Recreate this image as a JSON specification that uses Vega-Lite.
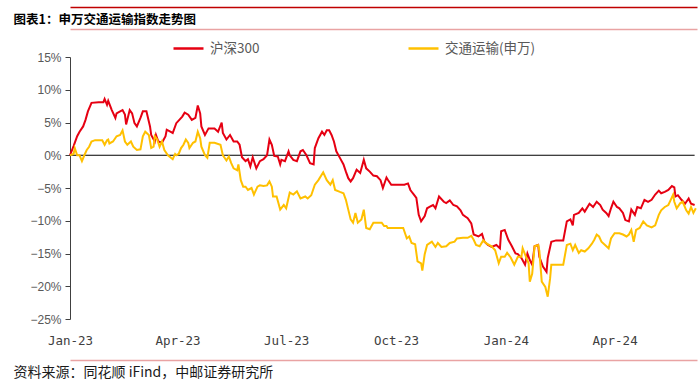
{
  "$schema": "https://vega.github.io/schema/vega-lite/v6.json",
  "width": 627,
  "height": 262,
  "autosize": "none",
  "padding": {"left": 70, "top": 57, "right": 3, "bottom": 62},
  "background": "white",
  "config": {
    "view": {"stroke": null},
    "font": "Noto Sans CJK SC",
    "axisY": {
      "values": [-25, -20, -15, -10, -5, 0, 5, 10, 15],
      "labelExpr": "format(datum.value, 'd') + '%'",
      "domainColor": "#404040",
      "domainWidth": 1,
      "tickColor": "#404040",
      "tickSize": 5,
      "labelFont": "Liberation Sans",
      "labelFontSize": 12,
      "labelColor": "#595959",
      "labelPadding": 4,
      "grid": false,
      "title": null
    }
  },
  "datasets": {
    "hs": [
      {"d": "2023-01-03", "v": 0}, {"d": "2023-01-06", "v": 1.4}, {"d": "2023-01-09", "v": 2.9}, {"d": "2023-01-11", "v": 3.6},
      {"d": "2023-01-14", "v": 4.4}, {"d": "2023-01-16", "v": 5.4}, {"d": "2023-01-18", "v": 6.7}, {"d": "2023-01-21", "v": 8.0},
      {"d": "2023-01-27", "v": 8.1}, {"d": "2023-01-31", "v": 8.1}, {"d": "2023-02-01", "v": 8.6}, {"d": "2023-02-03", "v": 7.7},
      {"d": "2023-02-04", "v": 8.3}, {"d": "2023-02-07", "v": 6.9}, {"d": "2023-02-10", "v": 5.7}, {"d": "2023-02-11", "v": 6.4},
      {"d": "2023-02-14", "v": 6.7}, {"d": "2023-02-16", "v": 6.9}, {"d": "2023-02-18", "v": 6.2}, {"d": "2023-02-19", "v": 4.7},
      {"d": "2023-02-22", "v": 6.9}, {"d": "2023-02-24", "v": 6.4}, {"d": "2023-02-26", "v": 4.9}, {"d": "2023-02-28", "v": 4.4},
      {"d": "2023-03-03", "v": 5.7}, {"d": "2023-03-05", "v": 6.7}, {"d": "2023-03-08", "v": 6.7}, {"d": "2023-03-11", "v": 4.4},
      {"d": "2023-03-12", "v": 3.1}, {"d": "2023-03-15", "v": 2.1}, {"d": "2023-03-16", "v": 3.1}, {"d": "2023-03-18", "v": 2.1},
      {"d": "2023-03-21", "v": 1.9}, {"d": "2023-03-24", "v": 2.9}, {"d": "2023-03-25", "v": 3.9}, {"d": "2023-03-28", "v": 3.6},
      {"d": "2023-03-30", "v": 3.4}, {"d": "2023-04-02", "v": 4.9}, {"d": "2023-04-07", "v": 5.9}, {"d": "2023-04-09", "v": 6.5},
      {"d": "2023-04-12", "v": 6.2}, {"d": "2023-04-15", "v": 5.4}, {"d": "2023-04-18", "v": 5.7}, {"d": "2023-04-20", "v": 7.6},
      {"d": "2023-04-22", "v": 6.4}, {"d": "2023-04-23", "v": 4.4}, {"d": "2023-04-26", "v": 3.1}, {"d": "2023-04-29", "v": 4.1},
      {"d": "2023-05-04", "v": 4.1}, {"d": "2023-05-07", "v": 3.6}, {"d": "2023-05-10", "v": 5.0}, {"d": "2023-05-11", "v": 3.4},
      {"d": "2023-05-14", "v": 2.4}, {"d": "2023-05-17", "v": 3.1}, {"d": "2023-05-20", "v": 2.1}, {"d": "2023-05-23", "v": 2.1},
      {"d": "2023-05-25", "v": 1.6}, {"d": "2023-05-27", "v": -0.3}, {"d": "2023-05-30", "v": -0.9}, {"d": "2023-06-01", "v": -0.6},
      {"d": "2023-06-03", "v": -1.7}, {"d": "2023-06-05", "v": -0.3}, {"d": "2023-06-08", "v": -2.0}, {"d": "2023-06-11", "v": -0.9},
      {"d": "2023-06-14", "v": -0.6}, {"d": "2023-06-17", "v": 0}, {"d": "2023-06-19", "v": 2.4}, {"d": "2023-06-21", "v": 1.6},
      {"d": "2023-06-23", "v": -0.1}, {"d": "2023-06-26", "v": -0.2}, {"d": "2023-06-28", "v": -1.4}, {"d": "2023-06-29", "v": -0.7},
      {"d": "2023-07-02", "v": -0.9}, {"d": "2023-07-05", "v": 0.6}, {"d": "2023-07-06", "v": 0}, {"d": "2023-07-09", "v": -0.7},
      {"d": "2023-07-12", "v": -0.9}, {"d": "2023-07-15", "v": 0.6}, {"d": "2023-07-17", "v": 0.8}, {"d": "2023-07-20", "v": 0},
      {"d": "2023-07-23", "v": -1.2}, {"d": "2023-07-26", "v": -1.4}, {"d": "2023-07-27", "v": 1.1}, {"d": "2023-07-30", "v": 2.6},
      {"d": "2023-08-02", "v": 3.6}, {"d": "2023-08-04", "v": 3.1}, {"d": "2023-08-06", "v": 3.8}, {"d": "2023-08-08", "v": 3.8},
      {"d": "2023-08-10", "v": 3.1}, {"d": "2023-08-12", "v": 2.1}, {"d": "2023-08-14", "v": 0.6}, {"d": "2023-08-17", "v": -0.4},
      {"d": "2023-08-20", "v": -1.4}, {"d": "2023-08-22", "v": -2.5}, {"d": "2023-08-24", "v": -3.5}, {"d": "2023-08-26", "v": -4.0},
      {"d": "2023-08-28", "v": -3.5}, {"d": "2023-08-31", "v": -2.2}, {"d": "2023-09-03", "v": -2.7}, {"d": "2023-09-06", "v": -0.7},
      {"d": "2023-09-08", "v": -2.0}, {"d": "2023-09-11", "v": -2.5}, {"d": "2023-09-14", "v": -3.1}, {"d": "2023-09-17", "v": -3.2},
      {"d": "2023-09-20", "v": -3.8}, {"d": "2023-09-22", "v": -5.0}, {"d": "2023-09-25", "v": -3.4}, {"d": "2023-09-26", "v": -3.7},
      {"d": "2023-09-29", "v": -4.5}, {"d": "2023-10-10", "v": -4.5}, {"d": "2023-10-13", "v": -4.3}, {"d": "2023-10-15", "v": -5.3},
      {"d": "2023-10-17", "v": -5.8}, {"d": "2023-10-20", "v": -6.5}, {"d": "2023-10-22", "v": -9.1}, {"d": "2023-10-24", "v": -10.1},
      {"d": "2023-10-27", "v": -9.3}, {"d": "2023-10-29", "v": -8.1}, {"d": "2023-10-31", "v": -7.9}, {"d": "2023-11-03", "v": -7.6},
      {"d": "2023-11-05", "v": -8.1}, {"d": "2023-11-08", "v": -6.3}, {"d": "2023-11-12", "v": -7.1}, {"d": "2023-11-14", "v": -7.3},
      {"d": "2023-11-17", "v": -6.9}, {"d": "2023-11-20", "v": -7.6}, {"d": "2023-11-23", "v": -7.8}, {"d": "2023-11-26", "v": -8.4},
      {"d": "2023-11-28", "v": -9.1}, {"d": "2023-12-02", "v": -9.6}, {"d": "2023-12-05", "v": -10.4}, {"d": "2023-12-07", "v": -12.1},
      {"d": "2023-12-11", "v": -12.4}, {"d": "2023-12-14", "v": -12.0}, {"d": "2023-12-16", "v": -13.2}, {"d": "2023-12-19", "v": -13.7},
      {"d": "2023-12-22", "v": -14.0}, {"d": "2023-12-26", "v": -13.7}, {"d": "2023-12-29", "v": -14.2}, {"d": "2023-12-30", "v": -11.6},
      {"d": "2024-01-02", "v": -11.4}, {"d": "2024-01-05", "v": -12.9}, {"d": "2024-01-08", "v": -13.9}, {"d": "2024-01-11", "v": -15.0},
      {"d": "2024-01-13", "v": -15.1}, {"d": "2024-01-16", "v": -15.7}, {"d": "2024-01-19", "v": -16.7}, {"d": "2024-01-21", "v": -15.0},
      {"d": "2024-01-23", "v": -16.0}, {"d": "2024-01-25", "v": -16.7}, {"d": "2024-01-27", "v": -13.9}, {"d": "2024-01-30", "v": -13.7},
      {"d": "2024-01-31", "v": -15.5}, {"d": "2024-02-03", "v": -17.0}, {"d": "2024-02-06", "v": -17.8}, {"d": "2024-02-07", "v": -15.7},
      {"d": "2024-02-10", "v": -13.2}, {"d": "2024-02-14", "v": -13.0}, {"d": "2024-02-20", "v": -13.0}, {"d": "2024-02-23", "v": -10.1},
      {"d": "2024-02-26", "v": -9.8}, {"d": "2024-02-28", "v": -10.7}, {"d": "2024-02-29", "v": -9.1}, {"d": "2024-03-04", "v": -8.8},
      {"d": "2024-03-07", "v": -8.1}, {"d": "2024-03-09", "v": -8.6}, {"d": "2024-03-13", "v": -7.4}, {"d": "2024-03-16", "v": -7.9},
      {"d": "2024-03-19", "v": -7.1}, {"d": "2024-03-22", "v": -7.6}, {"d": "2024-03-24", "v": -8.3}, {"d": "2024-03-27", "v": -8.8},
      {"d": "2024-03-29", "v": -9.3}, {"d": "2024-03-31", "v": -8.1}, {"d": "2024-04-02", "v": -7.1}, {"d": "2024-04-05", "v": -7.9},
      {"d": "2024-04-07", "v": -8.1}, {"d": "2024-04-10", "v": -8.8}, {"d": "2024-04-12", "v": -9.9}, {"d": "2024-04-15", "v": -10.1},
      {"d": "2024-04-17", "v": -8.3}, {"d": "2024-04-20", "v": -9.1}, {"d": "2024-04-22", "v": -7.9}, {"d": "2024-04-25", "v": -8.1},
      {"d": "2024-04-28", "v": -6.8}, {"d": "2024-05-01", "v": -7.1}, {"d": "2024-05-04", "v": -6.8}, {"d": "2024-05-07", "v": -6.0},
      {"d": "2024-05-10", "v": -5.4}, {"d": "2024-05-12", "v": -5.8}, {"d": "2024-05-15", "v": -5.6}, {"d": "2024-05-18", "v": -5.3},
      {"d": "2024-05-21", "v": -4.7}, {"d": "2024-05-23", "v": -4.9}, {"d": "2024-05-24", "v": -6.3}, {"d": "2024-05-26", "v": -6.1},
      {"d": "2024-05-29", "v": -6.8}, {"d": "2024-06-01", "v": -7.4}, {"d": "2024-06-04", "v": -6.6}, {"d": "2024-06-06", "v": -7.4},
      {"d": "2024-06-09", "v": -7.6}
    ],
    "jt": [
      {"d": "2023-01-03", "v": 0}, {"d": "2023-01-06", "v": 0.2}, {"d": "2023-01-07", "v": 1.1}, {"d": "2023-01-09", "v": 0},
      {"d": "2023-01-11", "v": 0}, {"d": "2023-01-13", "v": -0.9}, {"d": "2023-01-15", "v": 0}, {"d": "2023-01-17", "v": 0.8},
      {"d": "2023-01-19", "v": 1.3}, {"d": "2023-01-21", "v": 2.1}, {"d": "2023-01-24", "v": 2.3}, {"d": "2023-01-30", "v": 2.3},
      {"d": "2023-02-01", "v": 1.6}, {"d": "2023-02-03", "v": 2.3}, {"d": "2023-02-04", "v": 2.4}, {"d": "2023-02-05", "v": 1.8},
      {"d": "2023-02-08", "v": 2.1}, {"d": "2023-02-11", "v": 2.9}, {"d": "2023-02-14", "v": 3.1}, {"d": "2023-02-16", "v": 3.8},
      {"d": "2023-02-18", "v": 2.1}, {"d": "2023-02-20", "v": 1.6}, {"d": "2023-02-23", "v": 2.1}, {"d": "2023-02-25", "v": 1.3},
      {"d": "2023-02-28", "v": 0.8}, {"d": "2023-03-03", "v": 0.9}, {"d": "2023-03-05", "v": 2.9}, {"d": "2023-03-07", "v": 3.6},
      {"d": "2023-03-10", "v": 3.1}, {"d": "2023-03-12", "v": 1.1}, {"d": "2023-03-14", "v": 1.3}, {"d": "2023-03-15", "v": 2.9},
      {"d": "2023-03-17", "v": 2.4}, {"d": "2023-03-19", "v": 1.3}, {"d": "2023-03-21", "v": 2.1}, {"d": "2023-03-23", "v": 0.8},
      {"d": "2023-03-26", "v": 0}, {"d": "2023-03-30", "v": -0.6}, {"d": "2023-04-01", "v": 0.2}, {"d": "2023-04-02", "v": 0},
      {"d": "2023-04-04", "v": 0.2}, {"d": "2023-04-06", "v": 1.1}, {"d": "2023-04-08", "v": 1.6}, {"d": "2023-04-10", "v": 2.4},
      {"d": "2023-04-12", "v": 1.9}, {"d": "2023-04-13", "v": 1.1}, {"d": "2023-04-16", "v": 1.9}, {"d": "2023-04-18", "v": 2.1},
      {"d": "2023-04-20", "v": 3.6}, {"d": "2023-04-22", "v": 2.6}, {"d": "2023-04-23", "v": 1.3}, {"d": "2023-04-26", "v": 0},
      {"d": "2023-04-28", "v": -0.4}, {"d": "2023-04-30", "v": 1.9}, {"d": "2023-05-04", "v": 1.9}, {"d": "2023-05-09", "v": 1.6},
      {"d": "2023-05-11", "v": 0}, {"d": "2023-05-14", "v": -0.8}, {"d": "2023-05-16", "v": -0.2}, {"d": "2023-05-18", "v": -1.2},
      {"d": "2023-05-20", "v": -2.0}, {"d": "2023-05-23", "v": -2.3}, {"d": "2023-05-24", "v": -1.4}, {"d": "2023-05-26", "v": -3.8},
      {"d": "2023-05-28", "v": -4.8}, {"d": "2023-05-30", "v": -4.8}, {"d": "2023-06-01", "v": -5.3}, {"d": "2023-06-04", "v": -5.0},
      {"d": "2023-06-06", "v": -6.0}, {"d": "2023-06-09", "v": -4.8}, {"d": "2023-06-11", "v": -4.6}, {"d": "2023-06-14", "v": -4.7},
      {"d": "2023-06-17", "v": -4.6}, {"d": "2023-06-19", "v": -4.0}, {"d": "2023-06-21", "v": -4.8}, {"d": "2023-06-22", "v": -6.3},
      {"d": "2023-06-25", "v": -6.3}, {"d": "2023-06-28", "v": -8.3}, {"d": "2023-07-01", "v": -7.6}, {"d": "2023-07-03", "v": -8.1},
      {"d": "2023-07-06", "v": -5.7}, {"d": "2023-07-09", "v": -6.0}, {"d": "2023-07-12", "v": -5.5}, {"d": "2023-07-15", "v": -6.6},
      {"d": "2023-07-19", "v": -6.3}, {"d": "2023-07-21", "v": -6.6}, {"d": "2023-07-24", "v": -6.1}, {"d": "2023-07-27", "v": -4.5},
      {"d": "2023-07-30", "v": -3.8}, {"d": "2023-08-03", "v": -2.6}, {"d": "2023-08-06", "v": -3.8}, {"d": "2023-08-09", "v": -4.5},
      {"d": "2023-08-11", "v": -3.8}, {"d": "2023-08-13", "v": -5.3}, {"d": "2023-08-17", "v": -5.6}, {"d": "2023-08-20", "v": -5.8},
      {"d": "2023-08-22", "v": -6.8}, {"d": "2023-08-24", "v": -8.3}, {"d": "2023-08-26", "v": -9.8}, {"d": "2023-08-28", "v": -10.3},
      {"d": "2023-08-30", "v": -8.8}, {"d": "2023-09-01", "v": -10.3}, {"d": "2023-09-04", "v": -9.8}, {"d": "2023-09-06", "v": -8.3},
      {"d": "2023-09-08", "v": -11.1}, {"d": "2023-09-11", "v": -11.3}, {"d": "2023-09-14", "v": -10.3}, {"d": "2023-09-21", "v": -10.3},
      {"d": "2023-09-23", "v": -10.8}, {"d": "2023-09-25", "v": -10.8}, {"d": "2023-09-26", "v": -11.1}, {"d": "2023-10-09", "v": -11.1},
      {"d": "2023-10-12", "v": -12.7}, {"d": "2023-10-14", "v": -12.4}, {"d": "2023-10-16", "v": -13.4}, {"d": "2023-10-19", "v": -13.6},
      {"d": "2023-10-21", "v": -16.2}, {"d": "2023-10-24", "v": -16.5}, {"d": "2023-10-25", "v": -17.6}, {"d": "2023-10-27", "v": -15.1},
      {"d": "2023-10-29", "v": -13.7}, {"d": "2023-11-02", "v": -13.2}, {"d": "2023-11-05", "v": -14.0}, {"d": "2023-11-07", "v": -13.4},
      {"d": "2023-11-10", "v": -14.0}, {"d": "2023-11-14", "v": -13.9}, {"d": "2023-11-17", "v": -13.4}, {"d": "2023-11-21", "v": -13.2},
      {"d": "2023-11-23", "v": -12.7}, {"d": "2023-11-28", "v": -12.6}, {"d": "2023-12-02", "v": -12.6}, {"d": "2023-12-05", "v": -12.3},
      {"d": "2023-12-07", "v": -12.9}, {"d": "2023-12-09", "v": -13.7}, {"d": "2023-12-12", "v": -13.9}, {"d": "2023-12-15", "v": -13.0},
      {"d": "2023-12-18", "v": -13.5}, {"d": "2023-12-22", "v": -13.9}, {"d": "2023-12-25", "v": -14.5}, {"d": "2023-12-28", "v": -16.5},
      {"d": "2023-12-30", "v": -15.5}, {"d": "2024-01-02", "v": -15.5}, {"d": "2024-01-04", "v": -14.9}, {"d": "2024-01-07", "v": -15.6},
      {"d": "2024-01-10", "v": -16.7}, {"d": "2024-01-13", "v": -15.5}, {"d": "2024-01-16", "v": -15.5}, {"d": "2024-01-17", "v": -14.2},
      {"d": "2024-01-20", "v": -15.6}, {"d": "2024-01-22", "v": -16.5}, {"d": "2024-01-23", "v": -19.3}, {"d": "2024-01-25", "v": -18.1},
      {"d": "2024-01-27", "v": -13.9}, {"d": "2024-01-30", "v": -13.7}, {"d": "2024-01-31", "v": -14.6}, {"d": "2024-02-02", "v": -19.3},
      {"d": "2024-02-05", "v": -20.1}, {"d": "2024-02-07", "v": -21.6}, {"d": "2024-02-09", "v": -18.8}, {"d": "2024-02-10", "v": -16.7},
      {"d": "2024-02-20", "v": -16.7}, {"d": "2024-02-23", "v": -13.7}, {"d": "2024-02-26", "v": -13.5}, {"d": "2024-02-28", "v": -14.5},
      {"d": "2024-03-01", "v": -13.7}, {"d": "2024-03-04", "v": -14.9}, {"d": "2024-03-06", "v": -14.5}, {"d": "2024-03-09", "v": -14.7},
      {"d": "2024-03-12", "v": -14.2}, {"d": "2024-03-15", "v": -13.5}, {"d": "2024-03-17", "v": -12.9}, {"d": "2024-03-19", "v": -12.1},
      {"d": "2024-03-21", "v": -12.4}, {"d": "2024-03-23", "v": -13.2}, {"d": "2024-03-26", "v": -13.7}, {"d": "2024-03-29", "v": -14.2},
      {"d": "2024-03-31", "v": -12.7}, {"d": "2024-04-03", "v": -11.9}, {"d": "2024-04-07", "v": -11.9}, {"d": "2024-04-10", "v": -12.1},
      {"d": "2024-04-13", "v": -12.4}, {"d": "2024-04-15", "v": -12.1}, {"d": "2024-04-17", "v": -11.4}, {"d": "2024-04-19", "v": -13.2},
      {"d": "2024-04-21", "v": -11.4}, {"d": "2024-04-24", "v": -11.1}, {"d": "2024-04-27", "v": -10.1}, {"d": "2024-04-30", "v": -10.7},
      {"d": "2024-05-04", "v": -11.0}, {"d": "2024-05-07", "v": -10.7}, {"d": "2024-05-10", "v": -9.1}, {"d": "2024-05-12", "v": -8.4},
      {"d": "2024-05-15", "v": -7.9}, {"d": "2024-05-18", "v": -7.6}, {"d": "2024-05-20", "v": -6.8}, {"d": "2024-05-22", "v": -6.0},
      {"d": "2024-05-23", "v": -7.1}, {"d": "2024-05-25", "v": -8.1}, {"d": "2024-05-28", "v": -7.3}, {"d": "2024-05-30", "v": -7.1},
      {"d": "2024-06-02", "v": -8.4}, {"d": "2024-06-04", "v": -8.9}, {"d": "2024-06-06", "v": -7.9}, {"d": "2024-06-08", "v": -8.8},
      {"d": "2024-06-10", "v": -8.1}
    ]
  },
  "layer": [
    {
      "data": {"name": "hs"},
      "mark": {"type": "rule", "color": "#000000", "strokeWidth": 1.2},
      "encoding": {
        "x": {
          "aggregate": "min", "field": "d", "type": "temporal",
          "scale": {"type": "utc", "domain": [{"year": 2023, "month": 1, "date": 3, "utc": true}, {"year": 2024, "month": 6, "date": 11, "utc": true}]},
          "axis": {"orient": "top", "offset": 50, "domain": true, "domainColor": "#C00000", "domainWidth": 1.5, "ticks": false, "labels": false, "grid": false, "title": null}
        },
        "x2": {"aggregate": "max", "field": "d"},
        "y": {"datum": 0, "type": "quantitative", "scale": {"domain": [-25, 15], "nice": false, "zero": false}}
      }
    },
    {
      "data": {"name": "hs"},
      "mark": {"type": "line", "strokeWidth": 2},
      "encoding": {
        "x": {
          "field": "d", "type": "temporal",
          "scale": {"type": "utc", "domain": [{"year": 2023, "month": 1, "date": 3, "utc": true}, {"year": 2024, "month": 6, "date": 11, "utc": true}]},
          "axis": {
            "orient": "bottom", "offset": 41, "domain": true, "domainColor": "#E9A3A3", "domainWidth": 1.5,
            "ticks": false, "tickSize": 0, "grid": false,
            "values": [
              {"year": 2023, "month": 1, "date": 3, "utc": true}, {"year": 2023, "month": 4, "date": 3, "utc": true},
              {"year": 2023, "month": 7, "date": 3, "utc": true}, {"year": 2023, "month": 10, "date": 3, "utc": true},
              {"year": 2024, "month": 1, "date": 3, "utc": true}, {"year": 2024, "month": 4, "date": 3, "utc": true}
            ],
            "labelExpr": "utcFormat(datum.value, '%b-%y')",
            "labelFont": "DejaVu Sans Mono", "labelFontSize": 12.5, "labelColor": "#404040",
            "labelPadding": -26, "labelBaseline": "top", "labelFlush": false, "labelOverlap": false,
            "title": "资料来源：同花顺 iFind，中邮证券研究所",
            "titleX": -57, "titleY": 12, "titleAnchor": "start", "titleAlign": "left", "titleBaseline": "middle", "titleAngle": 0,
            "titleFont": "Noto Sans CJK SC", "titleFontSize": 14, "titleFontWeight": "normal", "titleColor": "#1a1a1a"
          }
        },
        "y": {"field": "v", "type": "quantitative", "scale": {"domain": [-25, 15], "nice": false, "zero": false}, "axis": {"title": null}},
        "color": {
          "datum": "沪深300",
          "scale": {"domain": ["沪深300", "交通运输(申万)"], "range": ["#E60012", "#FFC000"]},
          "legend": {
            "orient": "none", "legendX": 102, "legendY": -25, "direction": "horizontal", "title": null,
            "symbolType": "stroke", "symbolSize": 900, "symbolStrokeWidth": 2.5,
            "labelFont": "Noto Sans CJK SC", "labelFontSize": 13.5, "labelColor": "#595959", "labelOffset": 5,
            "columnPadding": 143
          }
        }
      }
    },
    {
      "data": {"name": "jt"},
      "mark": {"type": "line", "strokeWidth": 2},
      "encoding": {
        "x": {
          "field": "d", "type": "temporal",
          "scale": {"type": "utc", "domain": [{"year": 2023, "month": 1, "date": 3, "utc": true}, {"year": 2024, "month": 6, "date": 11, "utc": true}]},
          "axis": {
            "orient": "top", "offset": 28, "domain": true, "domainColor": "#E9A3A3", "domainWidth": 1.5,
            "ticks": false, "labels": false, "grid": false,
            "title": "图表1：申万交通运输指数走势图",
            "titleX": -57, "titleY": -10, "titleAnchor": "start", "titleAlign": "left", "titleBaseline": "middle", "titleAngle": 0,
            "titleFont": "Noto Sans CJK SC", "titleFontSize": 12.5, "titleFontWeight": "bold", "titleColor": "#000000"
          }
        },
        "y": {"field": "v", "type": "quantitative", "scale": {"domain": [-25, 15], "nice": false, "zero": false}, "axis": {"title": null}},
        "color": {"datum": "交通运输(申万)"}
      }
    }
  ],
  "resolve": {"axis": {"x": "independent"}}
}
